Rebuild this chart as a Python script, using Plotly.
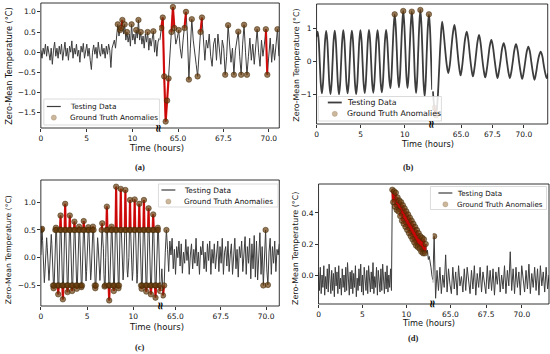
import numpy as np
import plotly.graph_objects as go

W, H = 550, 354

# ---------------- Panel (a) ----------------
a_seg1_start, a_seg1_end = 0.0, 12.9
a_seg1_vals = [
    0.05, -0.15, 0.1, -0.05, 0.2, -0.1, 0.15, 0.0,
    -0.2, 0.1, -0.3, 0.05, 0.25, -0.1, 0.1, -0.15,
    0.15, -0.05, 0.2, -0.2, 0.05, 0.25, -0.1, 0.1,
    -0.2, 0.15, 0.0, 0.28, -0.15, 0.1, -0.05, 0.2,
    -0.1, 0.05, -0.25, 0.15, 0.0, 0.22, -0.15, 0.05,
    0.2, -0.1, 0.1, -0.2, -0.43, 0.0, 0.18, -0.05,
    0.12, -0.15, 0.25, 0.0, -0.1, 0.2, -0.05, 0.1,
    -0.15, 0.15, -0.05, 0.2, 0.05, -0.38, 0.1, 0.2,
    0.3, 0.1, 0.45, 0.69, 0.4, 0.55, 0.6, 0.8,
    0.45, 0.69, 0.3, 0.5, 0.25, 0.45, 0.15, 0.69,
    0.3, 0.45, 0.2, 0.55, 0.35, 0.8, 0.3, 0.5,
    0.2, 0.4, 0.1, 0.45, 0.25, 0.5, 0.05, 0.35,
    0.15, 0.3, 0.52, 0.0, 0.3, -0.1, 0.25, 0.35,
]
a_seg2_start, a_seg2_end = 64.0, 70.56
a_seg2_vals = [
    0.3, 0.6, 0.86, -0.6, -1.72, -1.2, -0.65, -0.2, 0.5, 1.12,
    0.6, 0.2, 0.35, 0.55, 0.1, -0.15, 0.3, 0.6, 1.0, 0.4,
    -0.68, 0.1, 0.82, 0.3, -0.1, -0.3, -0.6, 0.0, 0.5, 0.86,
    0.2, -0.2, 0.3, 0.1, 0.45, -0.1, -0.35, 0.2, 0.35, -0.2,
    0.45, 0.0, -0.3, 0.3, 0.1, -0.56, -0.1, 0.67, 0.2, -0.25,
    0.1, -0.56, 0.05, 0.3, 0.51, -0.1, -0.56, 0.2, 0.68, 0.0,
    -0.56, -0.1, 0.35, -0.2, 0.2, -0.3, 0.1, 0.57, 0.0, -0.35,
    0.3, -0.1, 0.2, 0.57, -0.56, -0.1, 0.35, -0.25, 0.2, -0.2,
    0.3, 0.57, -0.1,
]
a_windows = [(8.0, 12.9, 0.5), (64.0, 70.6, 0.5)]

# ---------------- Panel (b) ----------------
b_seg1_start, b_seg1_end = 0.0, 13.1
b_seg1_vals = [
    0.75,
    0.90, 0.63, -0.03, -0.68, -0.96, -0.67, -0.01, 0.64,
    0.92, 0.64, -0.02, -0.69, -0.98, -0.68, 0.0, 0.65,
    0.93, 0.63, -0.03, -0.7, -0.99, -0.69, -0.01, 0.64,
    0.94, 0.65, -0.02, -0.68, -0.96, -0.67, 0.0, 0.65,
    0.93, 0.64, -0.03, -0.7, -0.98, -0.69, -0.02, 0.64,
    0.94, 0.65, -0.02, -0.67, -0.95, -0.66, 0.0, 0.66,
    0.95, 0.66, 0.0, -0.66, -0.94, -0.65, 0.01, 0.66,
    0.94, 0.65, -0.01, -0.67, -0.93, -0.64, 0.02, 0.67,
    0.95, 0.66, 0.05, -0.55, -0.80, -0.45, 0.30, 1.0,
    1.42, 1.05, 0.32, -0.45, -0.78, -0.42, 0.35, 1.08,
    1.52, 1.1, 0.35, -0.45, -0.80, -0.43, 0.36, 1.08,
    1.50, 1.08, 0.3, -0.55, -0.95, -0.55, 0.3, 1.1,
    1.55, 1.1, 0.25, -0.65, -1.05, -0.6, 0.3, 1.05,
    1.42, 1.0, 0.1, -0.85,
]
b_seg2_start, b_seg2_end = 62.76, 71.95
b_seg2_vals = [
    -0.9, -1.4, -1.62, -1.2, -0.3, 0.6, 1.2, 0.85, 0.35, -0.1,
    -0.35, -0.1, 0.4, 0.85, 1.1, 0.8, 0.3, -0.15, -0.42, -0.15,
    0.3, 0.7, 0.9, 0.65, 0.2, -0.2, -0.45, -0.2, 0.2, 0.6,
    0.8, 0.55, 0.12, -0.25, -0.48, -0.25, 0.12, 0.48, 0.65, 0.45,
    0.08, -0.27, -0.5, -0.27, 0.05, 0.4, 0.55, 0.38, 0.03, -0.3,
    -0.5, -0.3, 0.03, 0.36, 0.52, 0.35, 0.0, -0.32, -0.52, -0.32,
    0.0, 0.3, 0.45, 0.3, -0.03, -0.34, -0.55, -0.35, -0.05, 0.18,
    0.3, 0.18, -0.1, -0.35, -0.5, -0.35,
]
b_windows = [(8.5, 13.1, 1.3), (62.7, 63.3, 1.3)]

# ---------------- Panel (c) ----------------
c_seg1_start, c_seg1_end = 0.0, 12.98
c_seg1_vals = [
    0.05, 0.5, 0.52, 0.31, -0.04, -0.3, -0.45, -0.28,
    -0.02, 0.21, 0.36, 0.19, -0.03, -0.26, -0.41, -0.24,
    0.01, 0.26, 0.42, 0.24, -0.02, -0.5, -0.55, -0.5,
    0.03, 0.5, 0.54, 0.5, -0.01, -0.5, -0.66, -0.5,
    0.02, 0.5, 0.76, 0.5, 0.0, -0.5, -0.75, -0.5,
    -0.01, 0.5, 0.97, 0.5, 0.02, -0.5, -0.62, -0.5,
    0.01, 0.5, 0.76, 0.5, -0.02, -0.5, -0.6, -0.5,
    0.02, 0.5, 0.65, 0.5, 0.01, -0.5, -0.56, -0.5,
    -0.02, 0.5, 0.56, 0.5, 0.0, -0.5, -0.53, -0.5,
    0.03, 0.5, 0.66, 0.5, -0.01, -0.26, -0.42, -0.25,
    0.0, 0.5, 0.55, 0.5, 0.02, -0.24, -0.4, -0.26,
    0.01, 0.5, 0.56, 0.5, -0.02, -0.5, -0.55, -0.5,
    0.0, 0.22, 0.36, 0.21, 0.01, -0.25, -0.41, -0.24,
    0.04, 0.5, 0.62, 0.32, 0.16, -0.3, -0.52, -0.5,
    0.0, 0.5, 0.92, 0.5, -0.01, -0.5, -0.77, -0.5,
    0.02, 0.5, 0.56, 0.5, 0.0, -0.5, -0.6, -0.5,
    0.03, 0.5, 1.28, 0.5, 0.01, -0.5, -0.55, -0.5,
    0.0, 0.5, 1.24, 0.5, -0.02, -0.25, -0.4, -0.24,
    0.02, 0.5, 1.22, 0.5, 0.01, -0.22, -0.35, -0.21,
    0.0, 0.5, 1.04, 0.5, 0.0, -0.26, -0.41, -0.25,
    0.01, 0.5, 1.05, 0.5, -0.01, -0.3, -0.46, -0.3,
    0.02, 0.5, 0.97, 0.5, 0.0, -0.5, -0.56, -0.5,
    -0.01, 0.5, 1.04, 0.5, 0.02, -0.5, -0.61, -0.5,
    0.0, 0.5, 0.89, 0.5, -0.01, -0.5, -0.66, -0.5,
    0.01, 0.5, 0.78, 0.5, 0.0, -0.5, -0.72, -0.5,
    0.02, 0.5, 0.54, 0.5, -0.01, -0.5, -0.6, -0.5,
]
c_seg2_start, c_seg2_end = 64.19, 70.73
c_seg2_vals = [
    -0.55, -0.2, -0.68, -0.5, 0.1, 0.5, 0.15, -0.25, 0.3, 0.05,
    0.35, -0.2, 0.15, -0.3, 0.2, 0.0, 0.3, -0.15, 0.25, -0.28,
    0.1, -0.1, 0.33, -0.05, 0.2, -0.3, 0.05, 0.25, -0.2, 0.15,
    -0.1, 0.35, -0.15, 0.1, -0.3, 0.2, 0.05, 0.3, -0.2, 0.1,
    -0.25, 0.25, -0.05, 0.3, -0.3, 0.15, -0.1, 0.25, -0.2, 0.05,
    0.3, -0.25, 0.2, -0.1, 0.35, -0.3, 0.1, 0.2, -0.15, 0.3,
    -0.25, 0.05, 0.25, -0.3, 0.1, 0.35, -0.2, 0.15, -0.35, 0.2,
    0.0, 0.3, -0.25, 0.1, 0.38, -0.3, 0.2, -0.1, 0.35, -0.38,
    0.25, -0.2, 0.4, -0.35, 0.3, -0.4, 0.1, 0.45, -0.3, 0.2,
    -0.5, 0.2, 0.5, -0.2, -0.49, 0.1, 0.35, -0.3, 0.2, -0.1,
    0.3, -0.25, 0.15, 0.05, 0.25,
]
c_windows = [(0.0, 13.0, 0.5), (64.1, 70.8, 0.49)]

# ---------------- Panel (d) ----------------
d_seg1_start, d_seg1_end = 0.0, 13.0
d_seg1_vals = [
    0.02, -0.10, 0.05, -0.12, 0.0, -0.08, 0.06, -0.13, -0.01, -0.09,
    0.04, -0.11, 0.07, -0.06, -0.12, 0.03, -0.1, 0.01, -0.14, 0.05,
    -0.07, 0.02, -0.12, 0.06, -0.09, -0.02, -0.13, 0.04, -0.08, 0.0,
    -0.11, 0.05, -0.1, 0.08, -0.06, -0.13, 0.02, -0.09, 0.03, -0.12,
    0.01, -0.08, 0.06, -0.14, -0.02, -0.1, 0.04, -0.07, 0.07, -0.11,
    0.0, -0.13, 0.05, -0.06, -0.1, 0.03, -0.12, 0.06, -0.05, -0.11,
    0.02, -0.09, 0.08, -0.12, -0.01, -0.08, 0.05, -0.13, 0.03, -0.07,
    -0.11, 0.04, -0.1, 0.07, -0.06, -0.12, 0.02, -0.09, 0.06, -0.11,
    0.0, -0.08, 0.04,
    -0.1,
    0.55, 0.47, 0.54, 0.44, 0.53, 0.42, 0.50, 0.41, 0.48, 0.38,
    0.47, 0.35, 0.45, 0.33, 0.43, 0.31, 0.41, 0.29, 0.39, 0.27,
    0.37, 0.25, 0.35, 0.23, 0.33, 0.21, 0.31, 0.19, 0.29, 0.18,
    0.27, 0.17, 0.25, 0.15, 0.24, 0.14, 0.23, 0.14, 0.20,
    0.14, 0.16, 0.10, 0.12, 0.06, 0.05, 0.0, -0.03,
]
d_seg2_start, d_seg2_end = 63.76, 71.9
d_seg2_vals = [
    -0.05, 0.25, -0.15,
    0.03, -0.1, 0.05, -0.12, 0.0, -0.08, 0.13, -0.11, 0.04, -0.06,
    -0.12, 0.05, -0.09, 0.02, -0.13, 0.06, -0.07, -0.01, -0.11, 0.04,
    -0.1, 0.05, -0.06, -0.12, 0.03, -0.09, 0.06, -0.13, 0.01, -0.08,
    0.05, -0.11, 0.02, -0.07, -0.12, 0.06, -0.09, 0.03, -0.1, 0.04,
    -0.13, 0.02, -0.06, 0.05, -0.11, 0.0, -0.09, 0.06, -0.12, 0.03,
    -0.07, 0.15, -0.1, 0.04, -0.12, 0.05, -0.08, 0.02, -0.13, 0.06,
    -0.05, -0.11, 0.03, -0.09, 0.07, -0.12, 0.01, -0.08, 0.05, -0.1,
    0.04, -0.13, 0.06, -0.07, 0.02, -0.11, 0.05, -0.09, 0.0,
]
d_windows = [(8.35, 12.25, 0.0), (63.8, 63.92, 0.1)]

# ---------------- tick labels / texts ----------------
seg1_ticks = [0, 5, 10]
seg2_ticks = [65.0, 67.5, 70.0]
captions = ["(a)", "(b)", "(c)", "(d)"]
x_title = "Time (hours)"
y_title = "Zero-Mean Temperature (°C)"
legend_names = ["Testing Data", "Ground Truth Anomalies"]

# ---------------- layout geometry (pixels) ----------------
panels = [
    dict(v1=a_seg1_vals, s1=(a_seg1_start, a_seg1_end), v2=a_seg2_vals, s2=(a_seg2_start, a_seg2_end),
         win=a_windows, box=(39, 157.7, 278.3, 3, 128), r1=[0, 12.9], r2=[63.96, 70.58],
         yr=[-1.88, 1.22], ytv=[-1.5, -1.0, -0.5, 0.0, 0.5, 1.0], ytf=".1f", lw=1.0, spline=False,
         leg=dict(box=(42, 99, 158, 125), rows=(106.5, 117.6), line=(45, 59), mk=52, tx=66.5, fs=7.3),
         xt=(155, 148, 8.5), yt=(6.3, 65.5, 8.2), cap=(138.5, 166.5)),
    dict(v1=b_seg1_vals, s1=(b_seg1_start, b_seg1_end), v2=b_seg2_vals, s2=(b_seg2_start, b_seg2_end),
         win=b_windows, box=(315.7, 431.7, 547.7, 4, 124), r1=[0, 13.1], r2=[62.7, 71.9],
         yr=[-1.88, 1.73], ytv=[-1, 0, 1], ytf="d", lw=1.8, spline=True,
         leg=dict(box=(317.5, 96.5, 441, 121), rows=(102.5, 113.8), line=(327, 341), mk=334, tx=344, fs=7.8),
         xt=(427.5, 144, 8.2), yt=(294.7, 65, 7.9), cap=(408, 167)),
    dict(v1=c_seg1_vals, s1=(c_seg1_start, c_seg1_end), v2=c_seg2_vals, s2=(c_seg2_start, c_seg2_end),
         win=c_windows, box=(39, 159.3, 278.3, 180, 306), r1=[0, 12.98], r2=[64.19, 70.73],
         yr=[-0.87, 1.40], ytv=[-0.5, 0.0, 0.5, 1.0], ytf=".1f", lw=1.0, spline=False,
         leg=dict(box=(157, 184, 277, 207), rows=(190, 201.5), line=(160, 174), mk=167, tx=181, fs=7.4),
         xt=(154.7, 326.7, 8.5), yt=(6.3, 250, 7.6), cap=(139, 347)),
    dict(v1=d_seg1_vals, s1=(d_seg1_start, d_seg1_end), v2=d_seg2_vals, s2=(d_seg2_start, d_seg2_end),
         win=d_windows, box=(317.7, 432.3, 549, 184, 304), r1=[0, 13.0], r2=[63.76, 71.9],
         yr=[-0.187, 0.587], ytv=[0.0, 0.2, 0.4], ytf=".1f", lw=1.0, spline=False,
         leg=dict(box=(430, 186.5, 546.5, 209.5), rows=(193, 204.3), line=(438, 452), mk=445, tx=455, fs=7.1),
         xt=(428, 323.3, 8.2), yt=(294, 248, 7.9), cap=(413, 338)),
]

LINE_COLOR = "#3d3d3d"
RED = "rgba(215,0,0,0.9)"
MARK_FILL = "rgba(105,62,15,0.7)"
MARK_EDGE = "rgba(60,35,0,0.8)"
LEG_MARK = "rgba(190,165,130,0.8)"
FONT = "DejaVu Sans"


def fx(px):
    return px / W


def fy(py):
    return 1 - py / H


def axname(prefix, n):
    return prefix if n == 1 else f"{prefix}{n}"


def laykey(prefix, n):
    return f"{prefix}axis" if n == 1 else f"{prefix}axis{n}"


fig = go.Figure()
layout = dict(
    width=W, height=H, margin=dict(l=0, r=0, t=0, b=0),
    paper_bgcolor="white", plot_bgcolor="white", showlegend=False,
    font=dict(family=FONT, color="#111111"),
)
annotations = []
shapes = []

for p, P in enumerate(panels):
    xa, xb, ya = 2 * p + 1, 2 * p + 2, p + 1
    left, brk, right, top, bot = P["box"]

    segs = [(P["v1"], P["s1"], xa, P["win"][0]), (P["v2"], P["s2"], xb, P["win"][1])]
    for si, (vals, (t0, t1), xn, (w0, w1, thr)) in enumerate(segs):
        t = np.linspace(t0, t1, len(vals))
        v = np.array(vals, dtype=float)
        mask = (t >= w0) & (t <= w1) & (np.abs(v) >= thr)
        line = dict(color=LINE_COLOR, width=P["lw"])
        if P["spline"]:
            line.update(shape="spline", smoothing=1.0)
        fig.add_trace(go.Scatter(
            x=t, y=v, mode="lines", line=line, name=legend_names[0],
            xaxis=axname("x", xn), yaxis=axname("y", ya), hoverinfo="skip"))
        red_y = [vv if m else None for vv, m in zip(v, mask)]
        fig.add_trace(go.Scatter(
            x=t, y=red_y, mode="lines", line=dict(color=RED, width=2.2),
            connectgaps=False,
            xaxis=axname("x", xn), yaxis=axname("y", ya), hoverinfo="skip"))
        fig.add_trace(go.Scatter(
            x=t[mask], y=v[mask], mode="markers", name=legend_names[1],
            marker=dict(size=5.5, color=MARK_FILL, line=dict(color=MARK_EDGE, width=0.6)),
            xaxis=axname("x", xn), yaxis=axname("y", ya), hoverinfo="skip"))

    common_x = dict(showgrid=False, zeroline=False, showline=False, ticks="outside",
                    ticklen=2.5, tickwidth=0.8, tickcolor="#000",
                    tickfont=dict(size=7.5, family=FONT, color="#111"),
                    anchor=axname("y", ya))
    layout[laykey("x", xa)] = dict(common_x, domain=[fx(left), fx(brk)], range=P["r1"],
                                   tickvals=seg1_ticks, tickformat="d")
    layout[laykey("x", xb)] = dict(common_x, domain=[fx(brk), fx(right)], range=P["r2"],
                                   tickvals=seg2_ticks, tickformat=".1f")
    layout[laykey("y", ya)] = dict(domain=[fy(bot), fy(top)], range=P["yr"], anchor=axname("x", xa),
                                   showgrid=False, zeroline=False, showline=False, ticks="outside",
                                   ticklen=2.5, tickwidth=0.8, tickcolor="#000",
                                   tickvals=P["ytv"], tickformat=P["ytf"],
                                   tickfont=dict(size=7.5, family=FONT, color="#111"))

    # frame
    shapes.append(dict(type="rect", xref="paper", yref="paper",
                       x0=fx(left), x1=fx(right), y0=fy(bot), y1=fy(top),
                       line=dict(color="#000", width=0.8), fillcolor="rgba(0,0,0,0)"))

    # legend box (drawn by hand so that it stays compact, like the original)
    L = P["leg"]
    bx0, by0, bx1, by1 = L["box"]
    shapes.append(dict(type="rect", xref="paper", yref="paper", layer="above",
                       x0=fx(bx0), x1=fx(bx1), y0=fy(by1), y1=fy(by0),
                       line=dict(color="#d2d2d2", width=0.8), fillcolor="rgba(255,255,255,0.85)"))
    r1, r2 = L["rows"]
    shapes.append(dict(type="line", xref="paper", yref="paper", layer="above",
                       x0=fx(L["line"][0]), x1=fx(L["line"][1]), y0=fy(r1), y1=fy(r1),
                       line=dict(color=LINE_COLOR, width=max(1.2, P["lw"]))))
    rad = 2.6
    shapes.append(dict(type="circle", xref="paper", yref="paper", layer="above",
                       x0=fx(L["mk"] - rad), x1=fx(L["mk"] + rad), y0=fy(r2 + rad), y1=fy(r2 - rad),
                       line=dict(color="rgba(150,120,90,0.6)", width=0.5), fillcolor=LEG_MARK))
    for txt, ry in zip(legend_names, (r1, r2)):
        annotations.append(dict(text=txt, x=fx(L["tx"]), y=fy(ry), xref="paper", yref="paper",
                                showarrow=False, xanchor="left", yanchor="middle",
                                font=dict(size=L["fs"], family=FONT, color="#111")))

    annotations.append(dict(text=x_title, x=fx(P["xt"][0]), y=fy(P["xt"][1]), xref="paper", yref="paper",
                            showarrow=False, font=dict(size=P["xt"][2], family=FONT, color="#111"),
                            xanchor="center", yanchor="middle"))
    annotations.append(dict(text=y_title, x=fx(P["yt"][0]), y=fy(P["yt"][1]), xref="paper", yref="paper",
                            showarrow=False, textangle=-90,
                            font=dict(size=P["yt"][2], family=FONT, color="#111"),
                            xanchor="center", yanchor="middle"))
    annotations.append(dict(text=f"<b>{captions[p]}</b>", x=fx(P["cap"][0]), y=fy(P["cap"][1]),
                            xref="paper", yref="paper", showarrow=False,
                            font=dict(size=8.5, family="Liberation Serif", color="#222"),
                            xanchor="center", yanchor="middle"))
    annotations.append(dict(text="<b>≈</b>", x=fx(brk), y=fy(bot), xref="paper", yref="paper",
                            showarrow=False, textangle=90,
                            font=dict(size=11, family=FONT, color="#000"),
                            xanchor="center", yanchor="middle"))

layout["annotations"] = annotations
layout["shapes"] = shapes
fig.update_layout(**layout)
# the page's default 8px body margin would shift the 550x354 figure; remove it
fig.write_html("out.html", config={"staticPlot": True, "displayModeBar": False},
               post_script="document.body.style.margin='0px';document.body.style.overflow='hidden';")
